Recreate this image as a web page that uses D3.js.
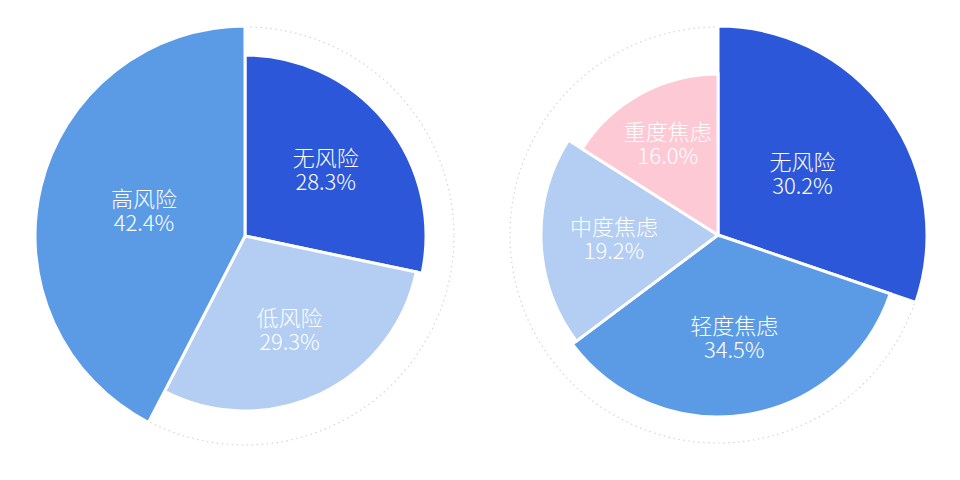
<!DOCTYPE html>
<html lang="zh">
<head>
<meta charset="utf-8">
<title>风险与焦虑分布</title>
<script src="https://cdn.jsdelivr.net/npm/d3@7/dist/d3.min.js"></script>
<style>
  body { margin: 0; background: #fff; }
  svg text {
    font-family: "Noto Sans CJK SC", "Noto Sans", sans-serif;
    font-size: 22px;
    font-weight: 300;
    fill: #fff;
    text-anchor: middle;
  }
</style>
</head>
<body>
<script>
// left pie
var riskLabels = ["无风险", "低风险", "高风险"];
var riskValues = [28.3, 29.3, 42.4];
var riskRadius = [181, 175, 210];
var riskColors = ["#2c57d9", "#b4cdf3", "#5b9be6"];

// right pie
var anxLabels = ["无风险", "轻度焦虑", "中度焦虑", "重度焦虑"];
var anxValues = [30.2, 34.5, 19.2, 16.0];
var anxRadius = [209, 182, 177, 161];
var anxColors = ["#2c57d9", "#5b9be6", "#b4cdf3", "#fdc9d5"];

var w = 960, h = 480;
var svg = d3.select("body").append("svg")
  .attr("width", w).attr("height", h);

function drawPie(cx, cy, labels, values, radii, colors) {
  var g = svg.append("g").attr("transform", "translate(" + cx + "," + cy + ")");

  // dotted guide circle
  g.append("circle")
    .attr("r", d3.max(radii) - 1)
    .attr("fill", "none")
    .attr("stroke", "#d6d6d6")
    .attr("stroke-width", 1.2)
    .attr("stroke-dasharray", "1.5 3.5");

  var pie = d3.pie().sort(null).value(function (d) { return d; });
  var arcs = pie(values);

  g.selectAll("path")
    .data(arcs)
    .enter()
    .append("path")
    .attr("d", function (d, i) {
      return d3.arc().innerRadius(0).outerRadius(radii[i])(d);
    })
    .attr("fill", function (d, i) { return colors[i]; })
    .attr("stroke", "#fff")
    .attr("stroke-width", 3)
    .attr("stroke-linejoin", "miter");

  // name + percent in one text block
  var labelArc = d3.arc().innerRadius(104).outerRadius(104);
  var lab = g.selectAll("text.lab")
    .data(arcs)
    .enter()
    .append("text")
    .attr("class", "lab")
    .attr("transform", function (d) {
      var c = labelArc.centroid(d);
      return "translate(" + c[0] + "," + c[1] + ")";
    });
  lab.append("tspan")
    .attr("x", 0)
    .attr("y", -4)
    .text(function (d, i) { return labels[i]; });
  lab.append("tspan")
    .attr("x", 0)
    .attr("y", 20)
    .text(function (d) { return d.data.toFixed(1) + "%"; });
}

drawPie(245, 236, riskLabels, riskValues, riskRadius, riskColors);
drawPie(718, 235, anxLabels, anxValues, anxRadius, anxColors);
</script>
</body>
</html>
